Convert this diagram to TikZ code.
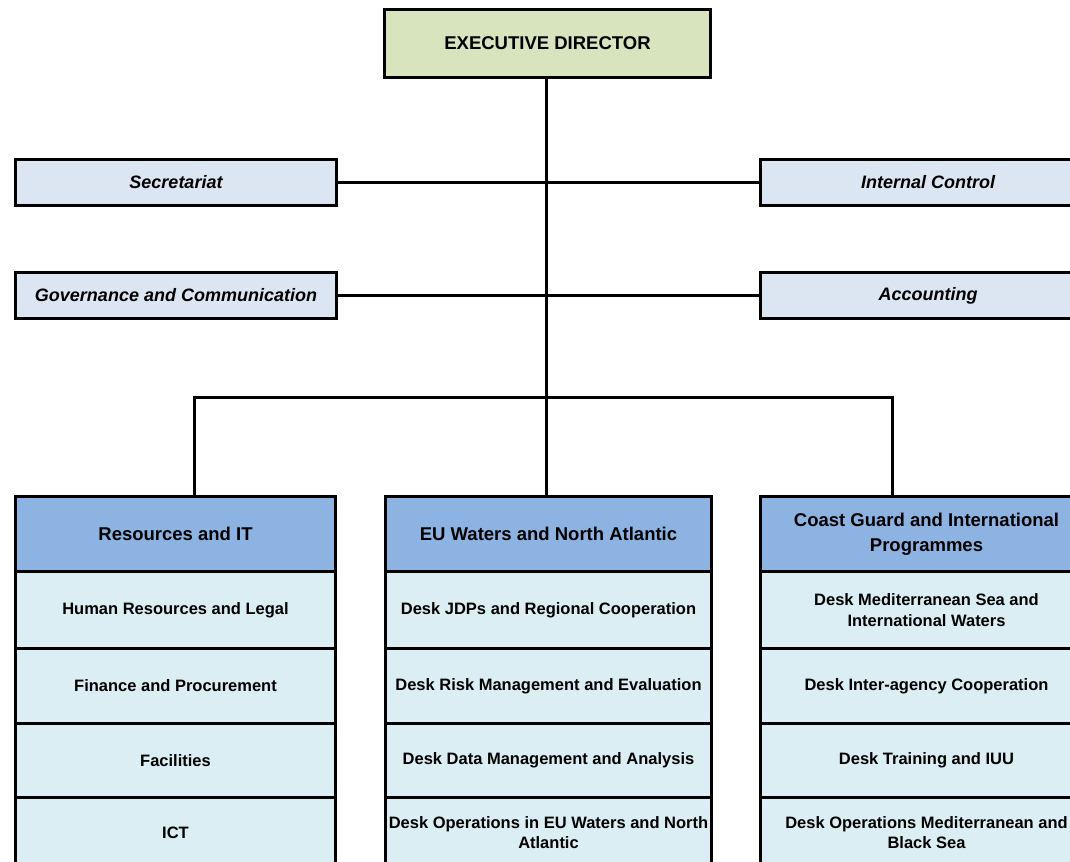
\documentclass[tikz,border=0pt]{standalone}
\usepackage{fontspec}
\setmainfont{Liberation Sans}
\definecolor{execfill}{HTML}{D7E4BD}
\definecolor{sidefill}{HTML}{DCE6F2}
\definecolor{headfill}{HTML}{8DB3E2}
\definecolor{rowfill}{HTML}{DAEEF3}
\begin{document}
\begin{tikzpicture}[x=1bp,y=-1bp,
  cell/.style={draw=black, line width=3bp, anchor=north west, inner sep=0pt, align=center},
  execbox/.style={cell, fill=execfill, minimum width=326bp, minimum height=68bp,
     font=\fontsize{18.5bp}{22bp}\selectfont\bfseries},
  sidebox/.style={cell, fill=sidefill, minimum height=46bp,
     font=\fontsize{18bp}{22bp}\selectfont\bfseries\itshape},
  headbox/.style={cell, fill=headfill, minimum height=75bp,
     font=\fontsize{18.5bp}{25bp}\selectfont\bfseries},
  rowbox/.style={cell, fill=rowfill, font=\fontsize{16.5bp}{20.5bp}\selectfont\bfseries},
  link/.style={draw=black, line width=3bp}]
\clip (0,0) rectangle (1070,862);
\fill[white] (0,0) rectangle (1070,862);

% Executive director
\node[execbox] (ed) at (383,8) {EXECUTIVE DIRECTOR};

% side boxes
\node[sidebox, minimum width=321bp] (sec) at (14,158) {Secretariat};
\node[sidebox, minimum width=335bp] (ic) at (759,158) {Internal Control};
\node[sidebox, minimum width=321bp] (gov) at (14,271) {Governance and Communication};
\node[sidebox, minimum width=335bp] (acc) at (759,271) {Accounting};

% columns: left
\node[headbox, minimum width=320bp] (res) at (14,495) {Resources and IT};
\node[rowbox, minimum width=320bp, minimum height=77bp] (r1) at (14,570) {Human Resources and Legal};
\node[rowbox, minimum width=320bp, minimum height=75bp] (r2) at (14,647) {Finance and Procurement};
\node[rowbox, minimum width=320bp, minimum height=74bp] (r3) at (14,722) {Facilities};
\node[rowbox, minimum width=320bp, minimum height=70bp] (r4) at (14,796) {ICT};

% middle
\node[headbox, minimum width=326bp] (eu) at (384,495) {EU Waters and North Atlantic};
\node[rowbox, minimum width=326bp, minimum height=77bp] (m1) at (384,570) {Desk JDPs and Regional Cooperation};
\node[rowbox, minimum width=326bp, minimum height=75bp] (m2) at (384,647) {Desk Risk Management and Evaluation};
\node[rowbox, minimum width=326bp, minimum height=74bp] (m3) at (384,722) {Desk Data Management and Analysis};
\node[rowbox, minimum width=326bp, minimum height=70bp] (m4) at (384,796) {Desk Operations in EU Waters and North\\Atlantic};

% right
\node[headbox, minimum width=332bp] (cg) at (759,495) {Coast Guard and International\\Programmes};
\node[rowbox, minimum width=332bp, minimum height=77bp] (c1) at (759,570) {Desk Mediterranean Sea and\\International Waters};
\node[rowbox, minimum width=332bp, minimum height=75bp] (c2) at (759,647) {Desk Inter-agency Cooperation};
\node[rowbox, minimum width=332bp, minimum height=74bp] (c3) at (759,722) {Desk Training and IUU};
\node[rowbox, minimum width=332bp, minimum height=70bp] (c4) at (759,796) {Desk Operations Mediterranean and\\Black Sea};

% connectors
\coordinate (mid) at (546,397);
\coordinate (lt) at (194,397);
\coordinate (rt) at (892,397);
\draw[link] (ed.south -| mid) -- (eu.north -| mid);
\draw[link] (sec.east) -- (ic.west);
\draw[link] (gov.east) -- (acc.west);
\draw[link] (lt |- res.north) -- (lt) -- (rt) -- (rt |- cg.north);
\end{tikzpicture}
\end{document}
